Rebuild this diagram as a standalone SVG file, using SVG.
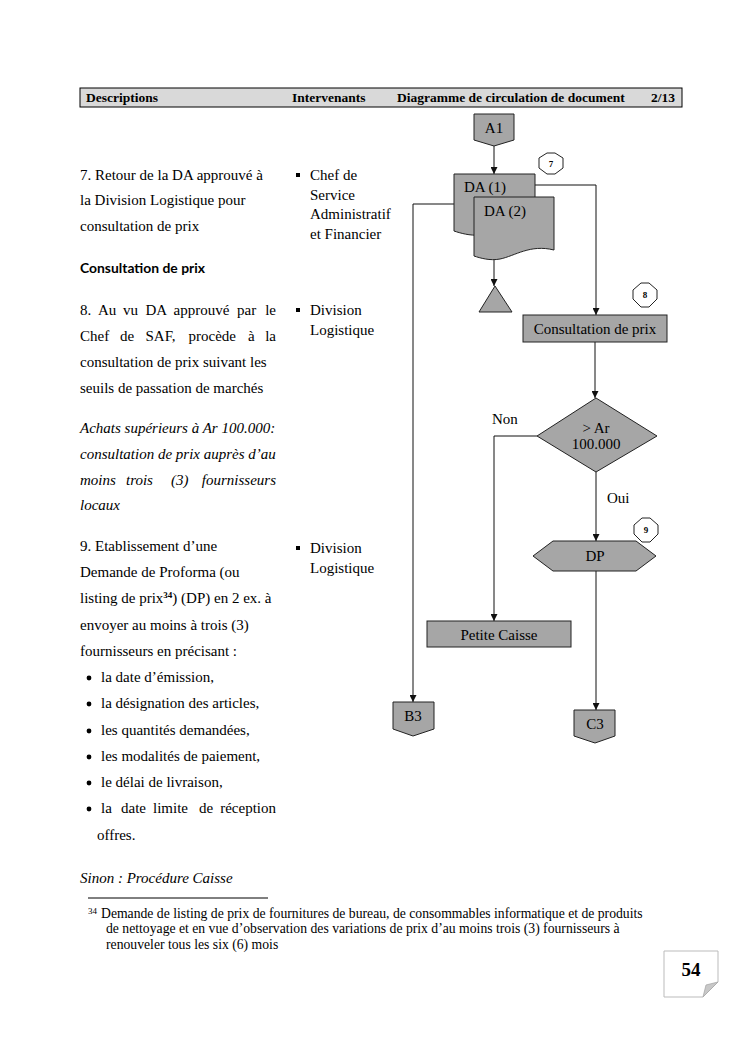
<svg xmlns="http://www.w3.org/2000/svg" width="744" height="1053" viewBox="0 0 744 1053">
<style>
.t{font-family:"Liberation Serif","Times New Roman",serif;font-size:15px;fill:#000}
.i{font-style:italic}
.e{text-anchor:end}
.h{font-family:"Liberation Serif","Times New Roman",serif;font-size:13.5px;font-weight:bold;fill:#000}
.n{font-family:"Liberation Serif","Times New Roman",serif;font-size:15px;fill:#000;text-anchor:middle}
.f{font-family:"Liberation Serif","Times New Roman",serif;font-size:13.7px;fill:#000}
.shape{fill:#a6a6a6;stroke:#222;stroke-width:1}
.oct{fill:#fff;stroke:#222;stroke-width:1}
.on{font-family:"Liberation Serif","Times New Roman",serif;font-size:9px;font-weight:bold;text-anchor:middle}
.c{fill:none;stroke:#111;stroke-width:1}
</style>
<defs>
<marker id="arr" viewBox="0 0 10 10" refX="10" refY="5" markerWidth="7" markerHeight="7" markerUnits="userSpaceOnUse" orient="auto">
<path d="M0,0 L10,5 L0,10 Z" fill="#111"/>
</marker>
</defs>
<rect width="744" height="1053" fill="#fff"/>

<g id="header">
<rect x="80" y="88" width="602" height="19" fill="#d9d9d9" stroke="#000" stroke-width="1"/>
<text class="h" x="86" y="102">Descriptions</text>
<text class="h" x="292" y="102">Intervenants</text>
<text class="h" x="397" y="102">Diagramme de circulation de document</text>
<text class="h" x="651" y="102">2/13</text>
</g>

<g id="descriptions">
<text class="t" x="80" y="180">7. Retour de la DA approuvé à</text>
<text class="t" x="80" y="205">la Division Logistique pour</text>
<text class="t" x="80" y="231">consultation de prix</text>
<text x="80" y="273" font-family="Lato,'Open Sans',sans-serif" font-weight="bold" font-size="13" textLength="125" lengthAdjust="spacingAndGlyphs">Consultation de prix</text>
<g class="t">
<text x="80" y="315">8.</text><text x="98" y="315">Au</text><text x="123" y="315">vu</text><text x="145.5" y="315">DA</text><text x="173.5" y="315">approuvé</text><text x="237" y="315">par</text><text class="e" x="276" y="315">le</text>
<text x="80" y="341">Chef</text><text x="120" y="341">de</text><text x="145.5" y="341">SAF,</text><text x="188.5" y="341">procède</text><text x="248" y="341">à</text><text class="e" x="276" y="341">la</text>
</g>
<text class="t" x="80" y="367">consultation de prix suivant les</text>
<text class="t" x="80" y="393">seuils de passation de marchés</text>
<text class="t i" x="80" y="433">Achats supérieurs à Ar 100.000:</text>
<text class="t i" x="80" y="459">consultation de prix auprès d’au</text>
<g class="t i">
<text x="80" y="485">moins</text><text x="126" y="485">trois</text><text x="171" y="485">(3)</text><text class="e" x="276" y="485">fournisseurs</text>
</g>
<text class="t i" x="80" y="510">locaux</text>
<text class="t" x="80" y="551">9.  Etablissement d’une</text>
<text class="t" x="80" y="577">Demande de Proforma (ou</text>
<text class="t" x="80" y="603">listing de prix<tspan font-size="9" font-weight="bold" dy="-5">34</tspan><tspan dy="5">) (DP) en 2 ex. à</tspan></text>
<text class="t" x="80" y="630">envoyer au moins à trois (3)</text>
<text class="t" x="80" y="656">fournisseurs en précisant :</text>
<g fill="#000">
<circle cx="89" cy="678" r="2.4"/>
<circle cx="89" cy="704" r="2.4"/>
<circle cx="89" cy="731" r="2.4"/>
<circle cx="89" cy="757" r="2.4"/>
<circle cx="89" cy="783" r="2.4"/>
<circle cx="89" cy="809" r="2.4"/>
</g>
<text class="t" x="101" y="682">la date d’émission,</text>
<text class="t" x="101" y="708">la désignation des articles,</text>
<text class="t" x="101" y="735">les quantités demandées,</text>
<text class="t" x="101" y="761">les modalités de paiement,</text>
<text class="t" x="101" y="787">le délai de livraison,</text>
<g class="t">
<text x="101" y="813">la</text><text x="121" y="813">date</text><text x="153" y="813">limite</text><text x="199" y="813">de</text><text class="e" x="276" y="813">réception</text>
</g>
<text class="t" x="97" y="840">offres.</text>
<text class="t i" x="80" y="883">Sinon : Procédure Caisse</text>
</g>

<g id="intervenants">
<rect x="296" y="173" width="4" height="4" fill="#000"/>
<text class="t" x="310" y="180">Chef de</text>
<text class="t" x="310" y="200">Service</text>
<text class="t" x="310" y="219">Administratif</text>
<text class="t" x="310" y="239">et Financier</text>
<rect x="296" y="308" width="4" height="4" fill="#000"/>
<text class="t" x="310" y="315">Division</text>
<text class="t" x="310" y="335">Logistique</text>
<rect x="296" y="546" width="4" height="4" fill="#000"/>
<text class="t" x="310" y="553">Division</text>
<text class="t" x="310" y="573">Logistique</text>
</g>

<g id="connectors">
<path class="c" d="M494,146 V174" marker-end="url(#arr)"/>
<path class="c" d="M535,185 H596 V315" marker-end="url(#arr)"/>
<path class="c" d="M454,204 H413 V702" marker-end="url(#arr)"/>
<path class="c" d="M494,260 V286" marker-end="url(#arr)"/>
<path class="c" d="M595,342 V398" marker-end="url(#arr)"/>
<path class="c" d="M537,436 H494 V621" marker-end="url(#arr)"/>
<path class="c" d="M596,472 V541" marker-end="url(#arr)"/>
<path class="c" d="M596,571 V710" marker-end="url(#arr)"/>
</g>

<g id="node-A1">
<path class="shape" d="M474,114 H514 V140 L494,146 L474,140 Z"/>
<text class="n" x="494" y="133">A1</text>
</g>

<g id="node-DA1">
<path class="shape" d="M454,174 H535 V225 C511,219 496,231 480,235 C470,236 460,233 454,231 Z"/>
<text class="t" x="464" y="192">DA (1)</text>
</g>

<g id="node-DA2">
<path class="shape" d="M474,197 H554 V250 C530,244 515,256 500,259 C490,261 480,258 474,256 Z"/>
<text class="t" x="484" y="216">DA (2)</text>
</g>

<g id="node-archive">
<path class="shape" d="M495,286 L512,312 H479 Z"/>
</g>

<g id="step-7">
<path class="oct" d="M547,153 H555 L563,158 V168 L555,174 H547 L539,168 V158 Z"/>
<text class="on" x="551" y="167">7</text>
</g>

<g id="step-8">
<path class="oct" d="M641,283 H649 L657,290 V299 L649,307 H641 L633,299 V290 Z"/>
<text class="on" x="645" y="298">8</text>
</g>

<g id="step-9">
<path class="oct" d="M642,518 H650 L658,525 V534 L650,542 H642 L634,534 V525 Z"/>
<text class="on" x="646" y="533">9</text>
</g>

<g id="node-consultation">
<rect class="shape" x="523" y="315" width="144" height="27"/>
<text class="n" x="595" y="334">Consultation de prix</text>
</g>

<g id="node-decision">
<path class="shape" d="M596,398 L657,436 L596,472 L537,436 Z"/>
<text class="n" x="596" y="433">&gt; Ar</text>
<text class="n" x="596" y="449">100.000</text>
</g>
<text class="t" x="492" y="424">Non</text>
<text class="t" x="607" y="503">Oui</text>

<g id="node-DP">
<path class="shape" d="M533,556 L553,541 H636 L656,556 L636,571 H553 Z"/>
<text class="n" x="595" y="561">DP</text>
</g>

<g id="node-petite-caisse">
<rect class="shape" x="427" y="621" width="144" height="26"/>
<text class="n" x="499" y="640">Petite Caisse</text>
</g>

<g id="node-B3">
<path class="shape" d="M393,702 H434 V729 L413,736 L393,729 Z"/>
<text class="n" x="413" y="721">B3</text>
</g>

<g id="node-C3">
<path class="shape" d="M574,710 H615 V736 L595,743 L574,736 Z"/>
<text class="n" x="595" y="729">C3</text>
</g>

<g id="footnote">
<line x1="88" y1="898" x2="268" y2="898" stroke="#000" stroke-width="1"/>
<text x="88" y="914" style="font-family:'Liberation Serif','Times New Roman',serif;font-size:9px">34</text>
<text class="f" x="101" y="918">Demande de listing de prix de fournitures de bureau, de consommables informatique et de produits</text>
<text class="f" x="106" y="933">de nettoyage et en vue d’observation des variations de prix d’au moins trois (3) fournisseurs à</text>
<text class="f" x="106" y="949">renouveler tous les six (6) mois</text>
</g>

<g id="page-number">
<path d="M664,951 H718 V982 L703,997 H664 Z" fill="#fff" stroke="#bbb" stroke-width="1"/>
<path d="M703,997 L706,985 L718,982 Z" fill="#c8c8c8" stroke="#aaa" stroke-width="0.8"/>
<text x="691" y="976" font-family="'Liberation Serif','DejaVu Serif',serif" font-size="19" font-weight="bold" text-anchor="middle">54</text>
</g>
</svg>
